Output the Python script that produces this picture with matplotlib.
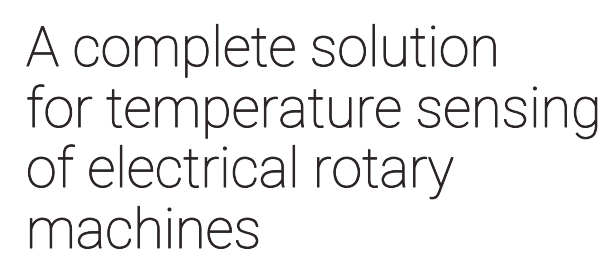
import matplotlib
matplotlib.use("Agg")
import matplotlib.pyplot as plt
import matplotlib.patheffects as pe

title_lines = ["A complete solution", "for temperature sensing", "of electrical rotary", "machines"]
baselines_px = [66, 127, 187, 248]

W, H = 614, 258
fig = plt.figure(figsize=(W / 100, H / 100), dpi=100)
fig.patch.set_facecolor("white")

color = "#2b2427"
for line, yb in zip(title_lines, baselines_px):
    fig.text(26 / W, 1 - yb / H, line, ha="left", va="baseline",
             fontsize=40, fontfamily=["Roboto", "DejaVu Sans"],
             fontweight="light", color=color,
             path_effects=[pe.withStroke(linewidth=0.7, foreground=color)])

fig.savefig("out.png", dpi=100, facecolor="white")
